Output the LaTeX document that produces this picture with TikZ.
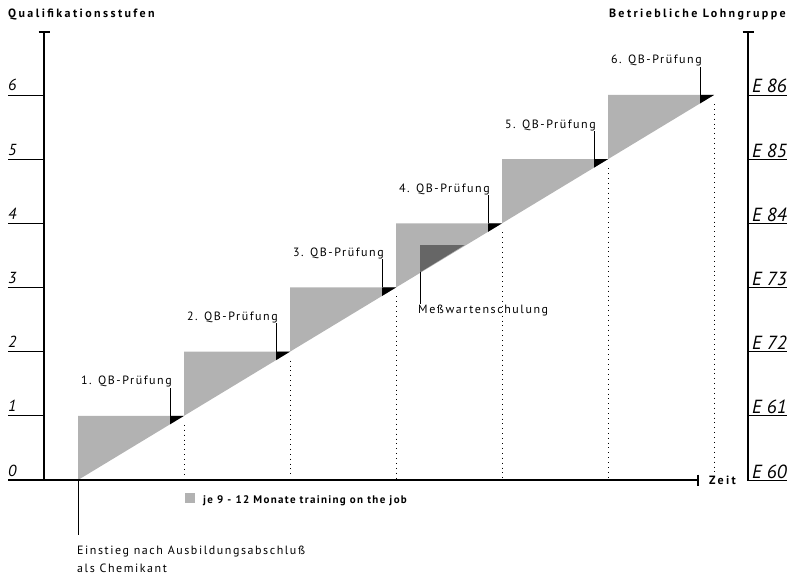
\documentclass[tikz,border=0pt]{standalone}
\usepackage{fontspec}
\setmainfont{PT Sans}
\newfontfamily\lblfont[LetterSpace=13]{PT Sans}
\newfontfamily\ttlfont[LetterSpace=20]{PT Sans}
\newfontfamily\legfont[LetterSpace=12]{PT Sans}
\colorlet{stepgray}{black!30}
\colorlet{darkstep}{black!60}
\begin{document}
\begin{tikzpicture}[x=1pt,y=-1pt,
  axis/.style={line width=1.6pt},
  axcap/.style={line width=2.6pt},
  lvl/.style={line width=0.9pt},
  pointer/.style={line width=0.9pt},
  dots/.style={line width=0.9pt, dash pattern=on 0.9pt off 4pt},
  qb/.style={font=\lblfont\fontsize{12}{14}\selectfont, inner sep=0pt},
  ttl/.style={font=\ttlfont\bfseries\fontsize{12}{14}\selectfont, inner sep=0pt},
  leg/.style={font=\legfont\bfseries\fontsize{11}{13}\selectfont, inner sep=0pt},
  lnum/.style={font=\itshape\fontsize{16}{18}\selectfont, inner sep=0pt, anchor=base west},
  rnum/.style={font=\itshape\fontsize{19}{21}\selectfont, inner sep=0pt, anchor=base west},
]
\useasboundingbox (0,0) rectangle (794,576);

% steps
\foreach \i in {1,...,6} {
  \pgfmathsetmacro\xs{78+106*(\i-1)}
  \pgfmathsetmacro\xe{78+106*\i}
  \pgfmathsetmacro\ys{480-64.17*(\i-1)}
  \pgfmathsetmacro\ye{480-64.17*\i}
  \fill[stepgray] (\xs,\ys) -- (\xs,\ye) -- (\xe,\ye) -- cycle;
  \fill[black] (\xe-14,\ye) -- (\xe,\ye) -- (\xe-14,\ye+8.5) -- cycle;
  \coordinate (d\i) at (\xe,\ye+9);
  \coordinate (b\i) at (\xe,478);
  \draw[dots] (d\i) -- (b\i);
  \coordinate (p\i) at (\xe-14,\ye);
  \node[qb, anchor=base east] (q\i) at (\xe-12,\ye-31) {\i. QB-Prüfung};
  \draw[pointer] (p\i) -- (p\i |- q\i.south);
}

% Messwartenschulung
\fill[darkstep] (420,245) -- (464.5,245) -- (420,272.3) -- cycle;
\coordinate (mw) at (420,272.3);
\node[qb, anchor=base west] (mwl) at (418,313) {Meßwartenschulung};
\draw[pointer] (mw) -- (mw |- mwl.north);

% left axis
\draw[axis] (44,32) -- (44,480.5);
\draw[axcap] (38.5,32) -- (49.5,32);
\draw[axis] (8,480) -- (698,480);
\draw[axcap] (698,474.5) -- (698,485.5);
\foreach \i in {1,...,6} {
  \pgfmathsetmacro\yy{480-64.17*\i}
  \draw[lvl] (8,\yy) -- (44,\yy);
}
\foreach \i in {0,...,6} {
  \pgfmathsetmacro\yy{480-64.17*\i-4}
  \node[lnum] (l\i) at (8,\yy) {\i};
}

% right axis
\draw[axis] (748,32) -- (748,480.5);
\draw[axcap] (742.5,32) -- (753.5,32);
\foreach \lab [count=\i from 0] in {E 60,E 61,E 72,E 73,E 84,E 85,E 86} {
  \pgfmathsetmacro\yy{480-64.17*\i}
  \draw[lvl] (748,\yy) -- (787,\yy);
  \node[rnum] (r\i) at (752,\yy-2) {\lab};
}

% titles
\node[ttl, anchor=base west] (tl) at (8,17) {Qualifikationsstufen};
\node[ttl, anchor=base east] (tr) at (786,17) {Betriebliche Lohngruppe};
\node[ttl, anchor=base west] (zeit) at (709,484) {Zeit};

% legend
\fill[stepgray] (185,493) rectangle (195,503);
\node[leg, anchor=base west] (leg) at (203,503) {je 9 - 12 Monate training on the job};

% Einstieg
\coordinate (e0) at (78,480);
\node[qb, anchor=base west] (ein) at (77,554) {Einstieg nach Ausbildungsabschluß};
\node[qb, anchor=base west] (ein2) at (77,572) {als Chemikant};
\coordinate (e1) at (78,535);
\draw[pointer] (e0) -- (e1);
\end{tikzpicture}
\end{document}
